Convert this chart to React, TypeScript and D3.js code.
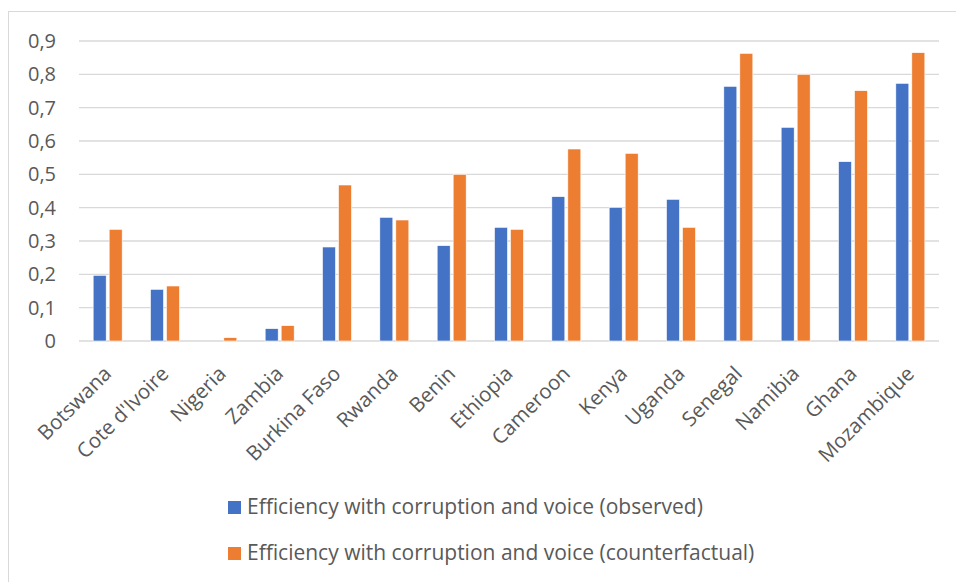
import React from "react";
import * as d3 from "d3";

const countries = ["Botswana","Cote d'Ivoire","Nigeria","Zambia","Burkina Faso","Rwanda","Benin","Ethiopia","Cameroon","Kenya","Uganda","Senegal","Namibia","Ghana","Mozambique"];
const observed = [0.197,0.155,0,0.037,0.282,0.371,0.286,0.341,0.433,0.401,0.425,0.764,0.641,0.538,0.773];
const counterfactual = [0.335,0.165,0.010,0.046,0.468,0.363,0.500,0.335,0.576,0.563,0.341,0.863,0.800,0.751,0.865];
const yTicks = [0,0.1,0.2,0.3,0.4,0.5,0.6,0.7,0.8,0.9];
const seriesNames = ["Efficiency with corruption and voice (observed)","Efficiency with corruption and voice (counterfactual)"];
const colors = ["#4472C4","#ED7D31"];

export default function App() {
  const W = 956, H = 582;
  const left = 79, right = 939, top = 41, bottom = 341;
  const x = d3.scaleBand<string>().domain(countries).range([left, right]);
  const y = d3.scaleLinear().domain([0, 0.9]).range([bottom, top]);
  const bw = 13, off = 8;
  const font = "'Open Sans', sans-serif";
  const fmt = (v: number) => (v === 0 ? "0" : d3.format(".1f")(v).replace(".", ","));
  return (
    <svg width={W} height={H} style={{ position: "absolute", left: 0, top: 0 }} fontFamily={font}>
      <rect x={0} y={0} width={W} height={H} fill="#fff" />
      <rect x={8.5} y={11.5} width={W + 20} height={H + 20} fill="none" stroke="#D9D9D9" strokeWidth={1} />
      {yTicks.map((t) => (
        <g key={t}>
          <line x1={left} x2={right} y1={y(t)} y2={y(t)} stroke="#D9D9D9" strokeWidth={1.3} />
          <text x={56} y={y(t)} dy="0.35em" textAnchor="end" fontSize={20} fill="#595959">{fmt(t)}</text>
        </g>
      ))}
      {countries.map((c, i) => {
        const cx = x(c)! + x.bandwidth() / 2;
        return (
          <g key={c}>
            {observed[i] > 0 && (
              <rect x={cx - off - bw / 2} y={y(observed[i])} width={bw} height={y(0) - y(observed[i])} fill={colors[0]} stroke="#fff" strokeWidth={0.6} />
            )}
            <rect x={cx + off - bw / 2} y={y(counterfactual[i])} width={bw} height={y(0) - y(counterfactual[i])} fill={colors[1]} stroke="#fff" strokeWidth={0.6} />
            <text transform={`translate(${cx + 5},${bottom + 34}) rotate(-45)`} textAnchor="end" fontSize={20.5} fill="#595959">{c}</text>
          </g>
        );
      })}
      {seriesNames.map((s, i) => (
        <g key={s}>
          <rect x={228} y={501 + i * 46} width={13} height={13} fill={colors[i]} />
          <text x={247} y={514 + i * 46} fontSize={21} fill="#595959">{s}</text>
        </g>
      ))}
    </svg>
  );
}
